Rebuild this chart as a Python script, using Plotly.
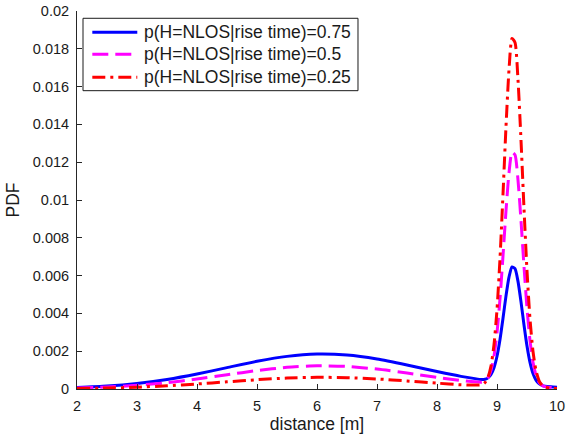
import plotly.graph_objects as go

# Distance grid [m] (denser around the LOS peak)
distance = [2.0, 2.5, 3.0, 3.5, 4.0, 4.5, 5.0, 5.5, 6.0, 6.5, 7.0, 7.5, 8.0, 8.4,
            8.75, 8.8, 8.85, 8.9, 8.95, 9.0, 9.05, 9.1, 9.15, 9.2, 9.25, 9.3,
            9.35, 9.4, 9.45, 9.5, 9.55, 9.6, 9.65, 9.7, 9.75, 9.8, 9.9, 10.0]

# PDF for p(H=NLOS|rise time) = 0.75
pdf_075 = [0.000073, 0.000153, 0.000292, 0.000504, 0.000792, 0.001131, 0.001466,
           0.001726, 0.001846, 0.001794, 0.001583, 0.001269, 0.000924, 0.000669,
           0.000502, 0.000518, 0.000591, 0.000771, 0.001128, 0.001733, 0.002623,
           0.003742, 0.004925, 0.005918, 0.006455, 0.006370, 0.005694, 0.004611,
           0.003388, 0.002272, 0.001407, 0.000821, 0.000472, 0.000286, 0.000194,
           0.000151, 0.000117, 0.000099]

# PDF for p(H=NLOS|rise time) = 0.5
pdf_050 = [0.000049, 0.000102, 0.000194, 0.000335, 0.000527, 0.000752, 0.000975,
           0.001148, 0.001228, 0.001193, 0.001053, 0.000844, 0.000614, 0.000445,
           0.000364, 0.000428, 0.000604, 0.000993, 0.001736, 0.002974, 0.004779,
           0.007041, 0.009431, 0.011436, 0.012533, 0.012385, 0.011055, 0.008911,
           0.006485, 0.004274, 0.002560, 0.001408, 0.000725, 0.000367, 0.000198,
           0.000124, 0.000080, 0.000066]

# PDF for p(H=NLOS|rise time) = 0.25
pdf_025 = [0.000024, 0.000051, 0.000098, 0.000169, 0.000266, 0.000379, 0.000491,
           0.000579, 0.000619, 0.000601, 0.000531, 0.000425, 0.000310, 0.000224,
           0.000228, 0.000340, 0.000619, 0.001214, 0.002338, 0.004202, 0.006911,
           0.010303, 0.013887, 0.016894, 0.018543, 0.018334, 0.016356, 0.013161,
           0.009549, 0.006253, 0.003701, 0.001988, 0.000976, 0.000447, 0.000202,
           0.000098, 0.000043, 0.000033]

series_names = ["p(H=NLOS|rise time)=0.75",
                "p(H=NLOS|rise time)=0.5",
                "p(H=NLOS|rise time)=0.25"]

x_ticks = [2, 3, 4, 5, 6, 7, 8, 9, 10]
y_ticks = [0, 0.002, 0.004, 0.006, 0.008, 0.01, 0.012, 0.014, 0.016, 0.018, 0.02]
y_tick_text = ["0", "0.002", "0.004", "0.006", "0.008", "0.01", "0.012",
               "0.014", "0.016", "0.018", "0.02"]

FONT = "Liberation Sans, Arial, Helvetica, sans-serif"
TEXT = "#1a1a1a"

styles = [
    dict(color="#0000FF", width=3, dash="solid"),
    dict(color="#FF00FF", width=3, dash="16px,7px"),
    dict(color="#FF0000", width=3, dash="13px,5px,3px,5px"),
]

fig = go.Figure()
for name, ys, st in zip(series_names, [pdf_075, pdf_050, pdf_025], styles):
    fig.add_trace(go.Scatter(
        x=distance, y=ys, mode="lines", name=name, cliponaxis=False,
        showlegend=False,
        line=dict(color=st["color"], width=st["width"], dash=st["dash"],
                  shape="spline", smoothing=0.6),
    ))

# Boxed legend in the upper-left corner of the axes (paper coordinates)
box_x0, box_x1, box_y0, box_y1 = 0.0125, 0.5854, 0.7892, 0.9807
sample_x0, sample_x1, label_x = 0.0319, 0.1256, 0.1348
row_y = [0.9437, 0.8854, 0.8246]

shapes = [dict(type="rect", xref="paper", yref="paper",
               x0=box_x0, x1=box_x1, y0=box_y0, y1=box_y1,
               line=dict(color=TEXT, width=1), fillcolor="white", layer="above")]
annotations = []
for name, st, ry in zip(series_names, styles, row_y):
    shapes.append(dict(type="line", xref="paper", yref="paper",
                       x0=sample_x0, x1=sample_x1, y0=ry, y1=ry, layer="above",
                       line=dict(color=st["color"], width=st["width"], dash=st["dash"])))
    annotations.append(dict(xref="paper", yref="paper", x=label_x, y=ry,
                            xanchor="left", yanchor="middle", showarrow=False,
                            text=name, font=dict(family=FONT, size=17.5, color=TEXT)))

axis_common = dict(
    showgrid=False, zeroline=False, showline=True, linecolor="#262626",
    linewidth=1, ticks="inside", ticklen=5, tickcolor="#262626",
    tickfont=dict(family=FONT, size=14.5, color=TEXT), mirror=False,
    automargin=False,
)

fig.update_layout(
    width=566, height=435,
    margin=dict(l=77, r=9, t=11, b=46),
    paper_bgcolor="white", plot_bgcolor="white",
    font=dict(family=FONT, color=TEXT),
    xaxis=dict(range=[2, 10], tickvals=x_ticks, ticklabelstandoff=4,
               title=dict(text="distance [m]", font=dict(family=FONT, size=17.5),
                          standoff=4),
               **axis_common),
    yaxis=dict(range=[0, 0.02], tickvals=y_ticks, ticktext=y_tick_text,
               ticklabelstandoff=4,
               title=dict(text="PDF", font=dict(family=FONT, size=17.5), standoff=8),
               **axis_common),
    shapes=shapes,
    annotations=annotations,
    showlegend=False,
)

fig.write_html("out.html")
